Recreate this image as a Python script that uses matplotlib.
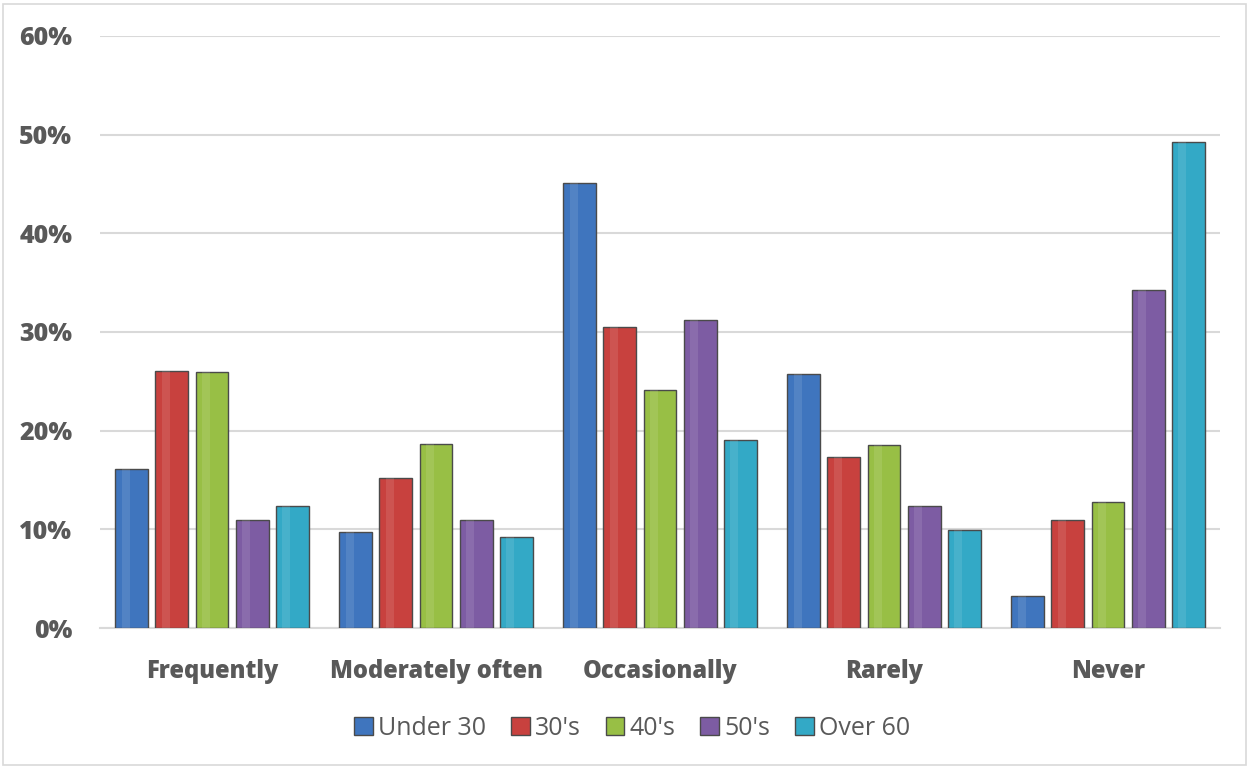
import numpy as np
import matplotlib.pyplot as plt
from matplotlib.patches import Rectangle

# survey answers by age group
categories = ['Frequently', 'Moderately often', 'Occasionally', 'Rarely', 'Never']
groups = ['Under 30', "30's", "40's", "50's", 'Over 60']
under_30 = [16.1, 9.7, 45.1, 25.7, 3.2]
thirties = [26.0, 15.2, 30.5, 17.3, 10.9]
forties = [25.9, 18.6, 24.1, 18.5, 12.8]
fifties = [10.9, 10.9, 31.2, 12.4, 34.3]
over_60 = [12.4, 9.2, 19.1, 9.9, 49.2]
yticks = [0, 10, 20, 30, 40, 50, 60]

series = [under_30, thirties, forties, fifties, over_60]
colors = ['#3F75BE', '#C8413E', '#98BF45', '#7D5CA3', '#33A9C6']
edge = '#4A4A4A'
text_col = '#595959'

plt.rcParams['font.family'] = ['Open Sans', 'DejaVu Sans']

fig = plt.figure(figsize=(12.5, 7.67), dpi=100)
ax = fig.add_axes([0.08, 0.1812, 0.896, 0.772])

# light frame around the whole chart
fig.patches.append(Rectangle((0.002, 0.003), 0.995, 0.992, transform=fig.transFigure,
                             fill=False, edgecolor='#D9D9D9', lw=1.2))

x = np.arange(len(categories))
step = 0.179
width = 0.147
for i, (vals, c) in enumerate(zip(series, colors)):
    pos = x + (i - 2) * step
    ax.bar(pos, vals, width=width, color=c, edgecolor=edge, linewidth=1.0,
           label=groups[i], zorder=3)
    # soft highlight stripe to hint at the bevel look
    ax.bar(pos - width * 0.18, vals, width=width * 0.25, color='white', alpha=0.10,
           linewidth=0, zorder=4)

ax.set_xlim(-0.5, 4.5)
ax.set_ylim(0, 60)
ax.set_yticks(yticks)
ax.set_yticklabels([f'{t}%' for t in yticks], fontsize=18, fontweight='heavy', color=text_col)
ax.set_xticks(x)
ax.set_xticklabels(categories, fontsize=17, fontweight='heavy', color=text_col)
ax.tick_params(axis='y', length=0, pad=20)
ax.tick_params(axis='x', length=0, pad=22)
ax.grid(axis='y', color='#D9D9D9', lw=1.5, zorder=0)
for s in ['top', 'right', 'left']:
    ax.spines[s].set_visible(False)
ax.spines['bottom'].set_color('#D9D9D9')
ax.spines['bottom'].set_linewidth(1.5)

leg = ax.legend(loc='upper center', bbox_to_anchor=(0.475, -0.11), ncol=5, frameon=False,
                fontsize=18, handlelength=0.75, handleheight=0.75, handletextpad=0.2,
                columnspacing=1.0)
for t in leg.get_texts():
    t.set_color(text_col)

fig.savefig('out.png', dpi=100)
